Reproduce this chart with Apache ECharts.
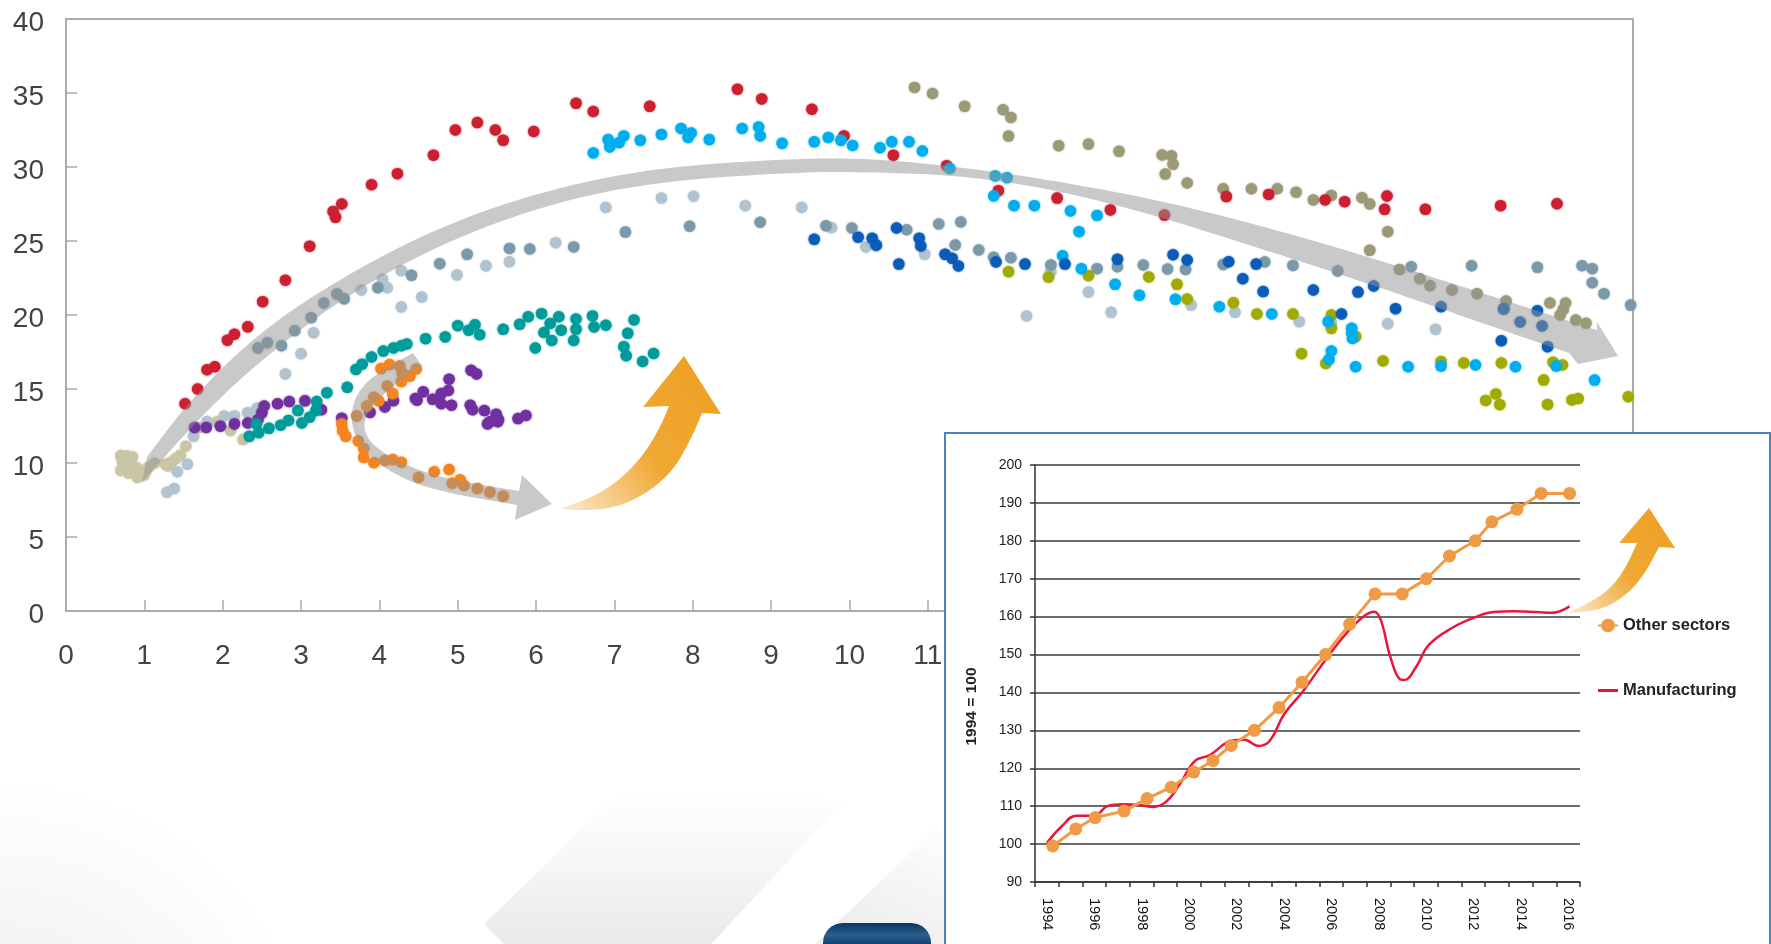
<!DOCTYPE html>
<html><head><meta charset="utf-8">
<style>html,body{margin:0;padding:0;background:#fff;overflow:hidden}#c{width:1771px;height:944px}</style>
<script src="https://cdn.jsdelivr.net/npm/echarts@6/dist/echarts.min.js"></script>
</head><body><div id="c"></div>
<script>
// ---- main scatter data: [x, y] ----
const palePoints=[[.72,10.1],[.7,10.5],[.7,9.5],[.78,10.47],[.85,10.4],[.73,9.77],[.76,10.2],[.82,10],[.8,9.32],[.85,9.6],[.9,9.7],[.91,9.02],[.95,9.3],[1.0,9.2],[1.02,9.47],[1.05,9.7],[1.13,9.98],[1.27,9.92],[1.3,9.8],[1.35,10.08],[1.4,10.3],[1.46,10.53],[1.53,11.13],[1.7,12.4],[1.93,12.79],[2.1,12.19],[2.26,11.58]];
const lightSlatePoints=[[1.29,8.02],[1.38,8.27],[1.42,9.41],[1.55,9.92],[1.63,11.8],[1.8,12.8],[2.02,13.18],[2.15,13.18],[2.32,13.4],[2.44,13.7],[2.8,16.02],[3.0,17.38],[3.16,18.8],[3.46,21.4],[3.77,21.69],[4.04,22.41],[4.1,21.84],[4.28,22.99],[4.28,20.54],[4.54,21.21],[4.99,22.71],[5.36,23.32],[5.66,23.59],[6.25,24.89],[6.89,27.27],[7.6,27.9],[8.01,28.02],[8.67,27.39],[9.39,27.27],[9.77,25.9],[10.21,24.6],[10.96,24.1],[12.26,19.93],[12.57,22.93],[13.05,21.55],[13.34,20.18],[14.36,20.67],[14.92,20.18],[15.74,19.55],[16.15,19.48],[16.87,19.41],[17.48,19.03]];
const steelPoints=[[2.45,17.77],[2.57,18.13],[2.75,17.92],[2.92,18.94],[3.13,19.82],[3.29,20.81],[3.55,21.09],[3.46,21.42],[3.98,21.84],[4.41,22.68],[4.77,23.47],[5.12,24.1],[5.66,24.5],[5.92,24.46],[6.48,24.6],[7.14,25.6],[7.96,26.0],[8.86,26.27],[9.7,26.03],[10.03,25.88],[10.34,24.7],[10.73,25.76],[11.14,26.15],[11.42,26.28],[11.35,24.73],[11.65,24.39],[11.84,23.9],[12.06,23.87],[12.57,23.38],[13.16,23.13],[13.42,23.26],[13.75,23.38],[14.06,23.11],[14.29,23.08],[14.77,23.42],[15.3,23.58],[15.66,23.35],[16.23,22.97],[17.17,23.26],[17.94,23.33],[18.78,23.22],[19.35,23.33],[19.48,23.13],[19.48,22.18],[19.63,21.44],[19.97,20.67],[18.35,20.38]];
const khakiPoints=[[10.83,35.38],[11.06,34.97],[11.47,34.1],[11.96,33.87],[12.06,33.35],[12.03,32.09],[12.67,31.44],[13.05,31.55],[13.44,31.06],[13.99,30.81],[14.11,30.76],[14.13,30.18],[14.03,29.52],[14.31,28.92],[14.77,28.53],[15.13,28.53],[15.46,28.53],[15.7,28.29],[15.92,27.77],[16.15,28.08],[16.54,27.93],[16.64,27.5],[16.87,25.63],[16.64,24.37],[17.02,23.08],[17.28,22.45],[17.41,21.98],[17.69,21.69],[18.01,21.44],[18.38,20.94],[18.94,20.81],[19.14,20.81],[19.11,20.38],[19.07,20.0],[19.27,19.66],[19.4,19.44]];
const olivePoints=[[12.03,22.93],[12.54,22.55],[13.05,22.66],[13.82,22.57],[14.18,22.07],[14.31,21.08],[14.9,20.83],[15.2,20.07],[15.66,20.07],[16.15,20.0],[16.15,19.1],[16.46,18.54],[15.77,17.39],[16.08,16.73],[16.81,16.89],[17.55,16.85],[17.84,16.76],[18.32,16.76],[18.98,16.8],[19.1,16.62],[18.86,15.6],[18.25,14.66],[18.12,14.23],[18.3,13.94],[18.91,13.96],[19.22,14.26],[19.3,14.35],[19.94,14.48]];
const redPoints=[[1.52,14.0],[1.68,15.0],[1.8,16.3],[1.9,16.5],[2.06,18.3],[2.15,18.7],[2.32,19.2],[2.51,20.9],[2.8,22.35],[3.11,24.65],[3.41,27.0],[3.44,26.6],[3.52,27.5],[3.9,28.8],[4.23,29.55],[4.69,30.8],[4.97,32.5],[5.25,33.0],[5.48,32.5],[5.58,31.8],[5.97,32.4],[6.51,34.3],[6.73,33.75],[7.45,34.1],[8.57,35.25],[8.88,34.6],[9.52,33.9],[9.93,32.1],[10.56,30.8],[11.24,30.09],[11.9,28.4],[12.65,27.9],[13.33,27.1],[14.02,26.75],[14.81,28.0],[15.35,28.15],[16.07,27.77],[16.32,27.66],[16.86,28.04],[16.83,27.14],[17.35,27.14],[18.31,27.39],[19.03,27.52]];
const skyPoints=[[6.73,30.95],[6.92,31.85],[6.94,31.35],[7.06,31.65],[7.12,32.1],[7.33,31.8],[7.6,32.2],[7.85,32.6],[7.94,32.0],[7.98,32.3],[8.21,31.85],[8.63,32.6],[8.84,32.7],[8.86,32.1],[9.14,31.6],[9.55,31.7],[9.73,32.0],[9.89,31.8],[10.04,31.45],[10.39,31.3],[10.54,31.7],[10.76,31.7],[10.93,31.08],[11.28,29.9],[11.86,29.4],[12.01,29.28],[11.84,28.04],[12.10,27.39],[12.36,27.39],[12.82,27.03],[13.16,26.73],[12.93,25.63],[12.72,24.0],[12.96,23.13],[13.39,22.07],[13.70,21.33],[14.16,21.06],[14.72,20.56],[15.39,20.07],[16.11,19.55],[16.41,19.1],[16.41,18.76],[16.42,18.42],[16.15,17.57],[16.12,17.0],[16.46,16.5],[17.13,16.5],[17.55,16.55],[17.99,16.62],[18.5,16.5],[19.02,16.55],[19.51,15.6]];
const bluePoints=[[9.55,25.11],[10.11,25.25],[10.29,25.18],[10.34,24.73],[10.6,25.88],[10.63,23.44],[10.89,25.18],[10.91,24.66],[11.22,24.1],[11.31,23.83],[11.39,23.31],[11.87,23.58],[12.24,23.44],[12.75,23.44],[13.42,23.76],[14.13,24.07],[14.31,23.72],[14.84,23.6],[15.19,23.44],[15.02,22.45],[15.28,21.58],[15.92,21.69],[16.49,21.55],[16.69,21.96],[16.28,20.07],[16.97,20.43],[17.55,20.56],[18.35,20.43],[18.56,19.53],[18.78,20.29],[18.84,19.26],[18.32,18.26],[18.91,17.86]];
const purplePoints=[[1.64,12.4],[1.79,12.4],[1.97,12.49],[2.15,12.64],[2.32,12.7],[2.45,12.94],[2.5,13.39],[2.53,13.85],[2.7,14.0],[2.85,14.15],[3.05,14.2],[3.26,13.6],[3.52,13.03],[3.88,13.42],[4.07,13.79],[4.18,14.21],[4.46,14.36],[4.56,14.81],[4.48,14.24],[4.68,14.3],[4.79,14.69],[4.79,14.0],[4.88,14.9],[4.89,15.66],[4.92,13.9],[5.16,13.9],[5.17,16.26],[5.24,16.02],[5.19,13.6],[5.34,13.54],[5.38,12.64],[5.49,13.3],[5.51,12.79],[5.41,12.79],[5.52,12.94],[5.77,13.0],[5.87,13.21]];
const tealPoints=[[2.34,11.8],[2.43,12.64],[2.46,12.04],[2.59,12.34],[2.74,12.55],[2.84,12.88],[2.96,13.54],[3.01,12.7],[3.11,13.09],[3.2,14.15],[3.19,13.54],[3.33,14.75],[3.59,15.11],[3.7,16.32],[3.78,16.68],[3.9,17.16],[4.05,17.56],[4.18,17.77],[4.28,17.92],[4.35,18.04],[4.59,18.4],[4.84,18.52],[5.0,19.28],[5.22,19.34],[5.14,18.97],[5.28,18.67],[5.58,19.03],[5.79,19.37],[5.9,19.88],[6.07,20.09],[5.99,17.77],[6.1,18.82],[6.2,18.28],[6.18,19.43],[6.29,19.88],[6.32,18.97],[6.51,19.73],[6.51,19.03],[6.48,18.28],[6.72,19.94],[6.74,19.19],[6.89,19.31],[7.25,19.67],[7.17,18.76],[7.12,17.86],[7.15,17.25],[7.36,16.86],[7.5,17.4]];
const orangePoints=[[3.52,12.64],[3.53,12.19],[3.57,11.8],[3.71,13.18],[3.73,11.49],[3.8,10.98],[3.8,10.38],[3.93,10.02],[4.07,10.17],[4.17,10.23],[4.28,10.05],[4.5,9.02],[4.7,9.41],[4.89,9.56],[4.93,8.63],[5.03,8.87],[5.08,8.48],[5.25,8.27],[5.41,8.02],[5.58,7.75],[3.84,13.85],[3.93,14.45],[3.99,14.2],[4.1,15.2],[4.17,14.69],[4.28,15.5],[4.39,15.87],[4.47,16.35],[4.02,16.38],[4.13,16.65],[4.26,16.56],[4.29,16.1]];
// ---- inset data ----
const insetYears=['1994','1995','1996','1997','1998','1999','2000','2001','2002','2003','2004','2005','2006','2007','2008','2009','2010','2011','2012','2013','2014','2015','2016'];
const otherSectorsX=[1994.25,1995.22,1996.04,1997.26,1998.23,1999.25,2000.2,2001.01,2001.78,2002.76,2003.8,2004.77,2005.76,2006.78,2007.85,2009.0,2010.02,2010.99,2012.08,2012.78,2013.84,2014.86,2016.06];
const otherSectorsY=[99.5,104,107,108.7,112,115,119,122,126,130,136,142.7,150,158,166,166,170,176,180,185,188.3,192.5,192.5];
const manufacturingX=[1994,1994.63,1995.24,1996,1996.56,1997.24,1997.9,1998.48,1999.04,1999.6,2000.24,2000.85,2001.87,2002.33,2002.94,2003.4,2004.02,2004.82,2005.84,2006.74,2007.42,2007.82,2008.1,2008.5,2008.9,2009.1,2009.57,2010.13,2011.15,2012.06,2012.85,2013.76,2014.67,2015.33,2016.06];
const manufacturingY=[100.3,104.7,107.5,107.5,110,110.5,110.3,109.8,111.2,115.7,121.9,123.4,127.4,127.5,125.9,127.2,134.3,140.4,149.3,156.3,160.3,161.3,159,149.3,143.5,143.3,146.6,152.6,157.2,159.8,161.2,161.4,161.2,161,162.7];

// Annotation arrows: outline from two curved edges and a head
function curve(p){const out=[p[0]];let cur=p[0];for(let i=1;i<p.length-1;i++){const m=[(p[i][0]+p[i+1][0])/2,(p[i][1]+p[i+1][1])/2];for(let k=1;k<=8;k++){const t=k/8,u=1-t;out.push([u*u*cur[0]+2*u*t*p[i][0]+t*t*m[0],u*u*cur[1]+2*u*t*p[i][1]+t*t*m[1]]);}cur=m;}out.push(p[p.length-1]);return out;}
function arrow(a,head,b){return curve(a).concat(head,curve(b));}
const grayFill='rgba(148,148,148,0.5)';
const goldFill=(x,y,x2,y2)=>({type:'linear',x,y,x2,y2,colorStops:[{offset:0,color:'#FBEBD2'},{offset:.55,color:'#F0A832'},{offset:1,color:'#EFA126'}]});
const bigGray=arrow(
 [[142,483],[163,458],[217,400],[270,353],[344,297],[442,243],[551,203],[660,181],[800,172],[862,172],[955,175],[1048,188],[1147,213],[1234,240],[1358,280],[1482,323],[1569,353]],
 [[1578,364],[1618,356],[1597,322]],
 [[1597,330],[1513,303],[1420,273],[1296,235],[1172,203],[1079,185],[986,170],[881,159],[804,158],[660,167],[545,190],[436,228],[339,279],[258,333],[190,400],[147,457]]);
const smallGray=arrow(
 [[413,353],[379,371],[356,393],[350,420],[359,446],[390,473],[436,491],[517,505]],
 [[515,520],[552,504],[522,475]],
 [[519,491],[448,480],[402,464],[373,446],[363,429],[367,411],[390,388],[422,366]]);
const goldMain=arrow(
 [[560,509],[597,512],[637,500],[672,473],[692,437],[702,413]],
 [[721,414],[684,356],[643,407]],
 [[669,406],[660,429],[637,464],[603,493],[560,509]]);
const goldInset=arrow(
 [[1568,613],[1595,612],[1622,599],[1643,577],[1659,547]],
 [[1675,548],[1649,508],[1619,543]],
 [[1637,543],[1627,567],[1606,594],[1568,613]]);

const scatter=(name,data,color)=>({name,type:'scatter',xAxisIndex:0,yAxisIndex:0,data,symbolSize:11.5,z:2,itemStyle:{color,opacity:1,shadowBlur:2,shadowColor:color},silent:true});
const font='"Liberation Sans"';
const chart=echarts.init(document.getElementById('c'),null,{renderer:'canvas'});
chart.setOption({
 animation:false,backgroundColor:'#fff',
 grid:[
  {left:66,top:19,width:1567,height:592,show:true,backgroundColor:'transparent',borderColor:'#ABABAB',borderWidth:2,containLabel:false,z:0},
  {left:1035,top:465,width:545,height:417,containLabel:false}
 ],
 xAxis:[
  {type:'value',gridIndex:0,min:0,max:20,interval:1,splitLine:{show:false},
   axisLine:{lineStyle:{color:'#ABABAB',width:2}},axisTick:{inside:true,length:11,lineStyle:{color:'#ABABAB',width:1.5}},
   axisLabel:{fontFamily:font,fontSize:28,color:'#434343',margin:31}},
  {type:'category',gridIndex:1,data:insetYears,z:10,boundaryGap:true,
   axisLine:{onZero:false,lineStyle:{color:'#333',width:1.5}},axisTick:{show:true,length:5,alignWithLabel:false,interval:0,lineStyle:{color:'#333',width:1.5}},
   axisLabel:{interval:1,rotate:-90,fontFamily:font,fontSize:14.5,color:'#111',margin:16}},
  {type:'value',gridIndex:1,show:false,min:1993.5,max:2016.5,splitLine:{show:false}}
 ],
 yAxis:[
  {type:'value',gridIndex:0,min:0,max:40,interval:5,splitLine:{show:false},
   axisLine:{lineStyle:{color:'#ABABAB',width:2}},axisTick:{inside:true,length:11,lineStyle:{color:'#ABABAB',width:1.5}},
   axisLabel:{fontFamily:font,fontSize:28,color:'#434343',margin:22,verticalAlign:'top',lineHeight:8}},
  {type:'value',gridIndex:1,min:90,max:200,interval:10,z:10,name:'1994 = 100',nameLocation:'middle',nameRotate:90,nameGap:55,
   nameTextStyle:{fontFamily:font,fontSize:15.5,fontWeight:'bold',color:'#222',padding:[0,66,0,0]},
   axisLine:{show:true,onZero:false,lineStyle:{color:'#333',width:1.5}},axisTick:{show:true,length:5,lineStyle:{color:'#333',width:1.5}},
   splitLine:{show:true,lineStyle:{color:'#3A3A3A',width:1.5}},
   axisLabel:{fontFamily:font,fontSize:14,color:'#222',margin:13}}
 ],
 legend:{z:14,data:[{name:'Other sectors',icon:'path://M0 6H3.1A7 7 0 0 1 16.9 6H20V8H16.9A7 7 0 0 1 3.1 8H0Z'},{name:'Manufacturing',icon:'path://M0 0H20V3H0Z'}],orient:'vertical',left:1593,top:612,itemGap:48,itemWidth:20,itemHeight:14,selectedMode:false,
  textStyle:{fontFamily:font,fontSize:16.5,fontWeight:'bold',color:'#222'}},
 series:[
  scatter('Group A',palePoints,'#C9C6A6'),
  scatter('Group B',lightSlatePoints,'#B0C3CE'),
  scatter('Group C',steelPoints,'#7B99A9'),
  scatter('Group D',khakiPoints,'#9C9977'),
  scatter('Group E',olivePoints,'#9FAB00'),
  scatter('Group F',redPoints,'#CC1F30'),
  scatter('Group G',skyPoints,'#00AEEF'),
  scatter('Group H',bluePoints,'#0B5CB8'),
  scatter('Group I',purplePoints,'#7030A0'),
  scatter('Group J',tealPoints,'#009B9B'),
  scatter('Group K',orangePoints,'#F5841F'),
  {name:'Manufacturing',type:'line',xAxisIndex:2,yAxisIndex:1,z:11,data:manufacturingX.map((x,i)=>[x,manufacturingY[i]]),smooth:.4,showSymbol:false,symbol:'none',lineStyle:{color:'#E8173A',width:2.5},itemStyle:{color:'#E8173A'}},
  {name:'Other sectors',type:'line',xAxisIndex:2,yAxisIndex:1,z:12,data:otherSectorsX.map((x,i)=>[x,otherSectorsY[i]]),symbol:'circle',symbolSize:13,lineStyle:{color:'#F19A45',width:3},itemStyle:{color:'#F19A45'}}
 ],
 graphic:{elements:[
  {type:'rect',z:-3,silent:true,shape:{x:0,y:760,width:500,height:184},style:{fill:{type:'radial',x:0,y:1100,r:320,global:true,colorStops:[{offset:0,color:'#EAEAEA'},{offset:.49,color:'#F4F4F4'},{offset:1,color:'#FFFFFF'}]}}},
  {type:'polygon',z:-2,silent:true,shape:{points:[[626,787],[484,924],[504,944],[711,944],[845,800]]},style:{fill:{type:'linear',x:0,y:0,x2:0,y2:1,colorStops:[{offset:0,color:'#ffffff'},{offset:.5,color:'#F6F6F6'},{offset:1,color:'#E9E9E9'}]}}},
  {type:'polygon',z:-2,silent:true,shape:{points:[[948,817],[815,944],[948,944]]},style:{fill:{type:'linear',x:1,y:0,x2:.5,y2:1,colorStops:[{offset:0,color:'#ffffff'},{offset:1,color:'#EDEDED'}]}}},
  {type:'polygon',z:3,silent:true,shape:{points:bigGray},style:{fill:grayFill}},
  {type:'polygon',z:3,silent:true,shape:{points:smallGray},style:{fill:grayFill}},
  {type:'polygon',z:3,silent:true,shape:{points:goldMain},style:{fill:goldFill(0,1,1,.3)}},
  {type:'rect',z:4,silent:true,shape:{x:823,y:923,width:108,height:40,r:[20,20,0,0]},style:{fill:{type:'linear',x:0,y:0,x2:0,y2:1,colorStops:[{offset:0,color:'#0A3560'},{offset:.3,color:'#2A5F8E'},{offset:.55,color:'#0F3F6E'},{offset:1,color:'#0F3F6E'}]}}},
  {type:'rect',z:5,silent:true,shape:{x:945,y:433,width:825,height:530},style:{fill:'#fff',stroke:'#4F81BD',lineWidth:2}},
  {type:'polygon',z:13,silent:true,shape:{points:goldInset},style:{fill:goldFill(0,1,1,.3)}}
 ]}
});
</script></body></html>
